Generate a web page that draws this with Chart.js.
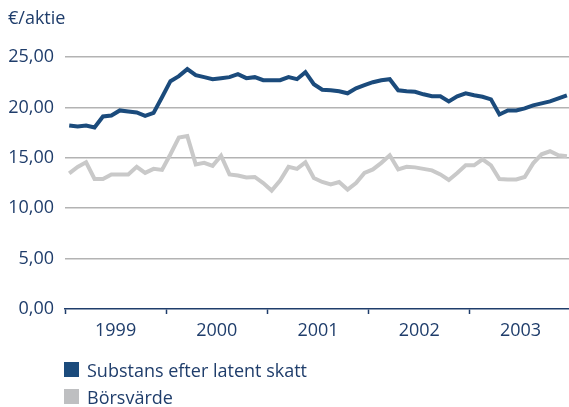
<!DOCTYPE html>
<html>
<head>
<meta charset="utf-8">
<script src="https://cdn.jsdelivr.net/npm/chart.js@4"></script>
<style>
  html, body { margin: 0; padding: 0; background: #fff; }
  #wrap { position: relative; width: 569px; height: 407px; }
  #legend { position: absolute; left: 64px; top: 356px; font: 18px "Open Sans"; color: #1f3d6b; }
  .item { display: flex; align-items: center; height: 27px; white-space: nowrap; }
  .box { width: 15px; height: 15px; margin-right: 8px; }
</style>
</head>
<body>
<div id="wrap">
  <canvas id="chart" width="569" height="407"></canvas>
  <div id="legend"></div>
</div>
<script>
// monthly values, jan 1999 - dec 2003
const years = ["1999", "2000", "2001", "2002", "2003"];
const seriesNames = ["Substans efter latent skatt", "Börsvärde"];
const substans = [
  18.2, 18.1, 18.2, 18.0, 19.1, 19.2, 19.7, 19.6, 19.5, 19.15, 19.45, 21.0,
  22.6, 23.1, 23.8, 23.2, 23.0, 22.8, 22.9, 23.0, 23.3, 22.9, 23.0, 22.7,
  22.7, 22.7, 23.0, 22.8, 23.5, 22.3, 21.75, 21.7, 21.6, 21.4, 21.9, 22.2,
  22.5, 22.7, 22.8, 21.7, 21.6, 21.55, 21.3, 21.1, 21.1, 20.6, 21.1, 21.4,
  21.2, 21.05, 20.8, 19.3, 19.7, 19.7, 19.9, 20.2, 20.4, 20.6, 20.9, 21.2
];
const borsvarde = [
  13.45, 14.1, 14.55, 12.9, 12.9, 13.35, 13.35, 13.35, 14.1, 13.5, 13.9, 13.8,
  15.35, 17.0, 17.15, 14.35, 14.5, 14.2, 15.2, 13.35, 13.25, 13.05, 13.1, 12.5,
  11.75, 12.75, 14.1, 13.9, 14.55, 13.0, 12.6, 12.35, 12.6, 11.85, 12.5, 13.5,
  13.85, 14.5, 15.25, 13.85, 14.1, 14.05, 13.9, 13.75, 13.35, 12.8, 13.5, 14.25,
  14.25, 14.85, 14.25, 12.9, 12.85, 12.85, 13.1, 14.45, 15.35, 15.65, 15.25, 15.15
];
const yTicks = [0, 5, 10, 15, 20, 25];

const navy = "#1f3d6b";
const lineColors = ["#1b4b7c", "#c9c9c9"];
const boxColors = ["#1b4b7c", "#bebfc1"];
const font = { family: "Open Sans", size: 18, weight: "normal" };

function toPoints(values) {
  return values.map((v, i) => ({ x: i + 0.5, y: v }));
}

const config = {
  type: "line",
  data: {
    datasets: [
      { label: seriesNames[0], data: toPoints(substans), borderColor: lineColors[0], borderWidth: 4, pointRadius: 0 },
      { label: seriesNames[1], data: toPoints(borsvarde), borderColor: lineColors[1], borderWidth: 4, pointRadius: 0 }
    ]
  },
  options: {
    responsive: false,
    animation: false,
    devicePixelRatio: 1,
    layout: { padding: { left: 8, right: 0, top: 0, bottom: 63 } },
    plugins: {
      legend: { display: false },
      tooltip: { enabled: false },
      title: {
        display: true,
        text: "€/aktie",
        align: "start",
        color: navy,
        font: font,
        padding: { top: 8, bottom: 27.4 }
      }
    },
    scales: {
      x: {
        type: "linear",
        min: 0,
        max: 59.75,
        afterBuildTicks: (s) => {
          const t = [];
          for (let v = 0; v < years.length * 12; v += 6) t.push({ value: v });
          s.ticks = t;
        },
        afterFit: (s) => { s.height = 35; },
        ticks: {
          autoSkip: false,
          maxRotation: 0,
          color: navy,
          font: font,
          padding: 6,
          callback: (v) => (v % 12 === 6 ? years[(v - 6) / 12] : "")
        },
        grid: {
          drawOnChartArea: false,
          tickLength: 5,
          tickWidth: 1.5,
          tickColor: (ctx) => (ctx.tick && ctx.tick.value % 12 === 0 ? navy : "rgba(0,0,0,0)")
        },
        border: { color: navy, width: 1.5 }
      },
      y: {
        min: 0,
        max: 25,
        afterBuildTicks: (s) => { s.ticks = yTicks.map((v) => ({ value: v })); },
        afterFit: (s) => { s.width = 57; },
        ticks: {
          color: navy,
          font: font,
          padding: 11,
          callback: (v) => v.toFixed(2).replace(".", ",")
        },
        grid: {
          drawTicks: false,
          lineWidth: 1.5,
          color: (ctx) => (ctx.tick && ctx.tick.value === 0 ? "rgba(0,0,0,0)" : "#b3b3b3")
        },
        border: { display: false }
      }
    }
  }
};

new Chart(document.getElementById("chart"), config);

// legend below the chart
const legend = document.getElementById("legend");
seriesNames.forEach((name, i) => {
  const item = document.createElement("div");
  item.className = "item";
  item.innerHTML = `<span class="box" style="background:${boxColors[i]}"></span><span>${name}</span>`;
  legend.appendChild(item);
});
</script>
</body>
</html>
